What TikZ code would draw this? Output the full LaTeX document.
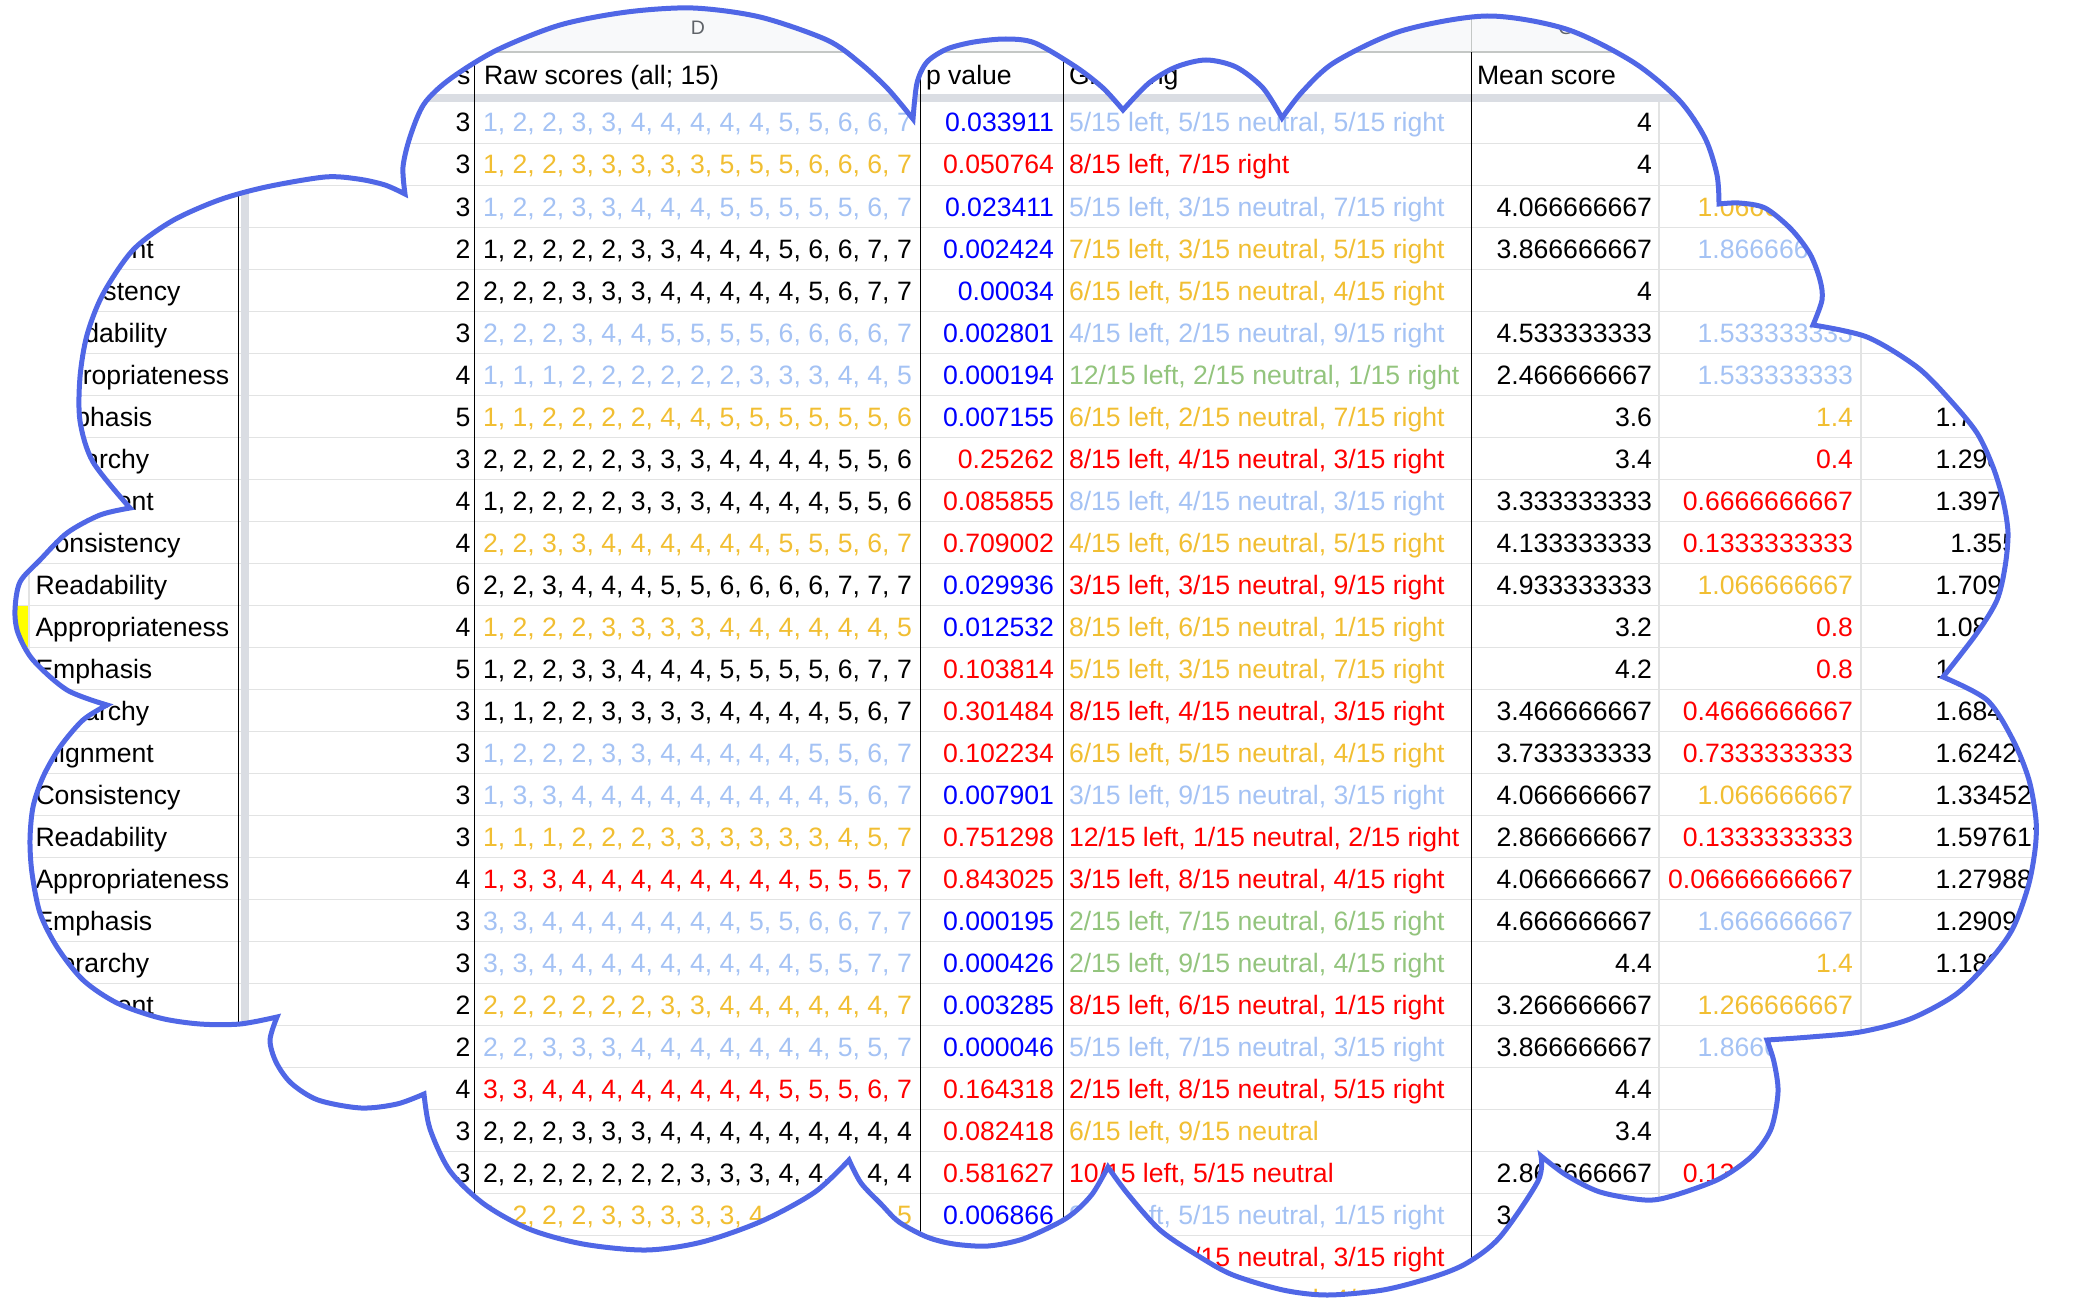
\documentclass[tikz,border=0pt]{standalone}
\usepackage{fontspec}
\setmainfont{Liberation Sans}
\definecolor{lblue}{HTML}{A4C2F4}
\definecolor{orng}{HTML}{F1BE32}
\definecolor{grn}{HTML}{93C47D}
\definecolor{rd}{HTML}{FF0000}
\definecolor{bl}{HTML}{0000FF}
\definecolor{cloudblue}{HTML}{5067E6}
\definecolor{gridgray}{HTML}{E2E3E3}
\definecolor{bandgray}{HTML}{DADDE3}
\definecolor{hdrbg}{HTML}{F8F9FA}
\definecolor{hdrline}{HTML}{C4C7C5}
\definecolor{lettergray}{HTML}{5F6368}
\definecolor{marker}{HTML}{FFFF00}
\tikzset{
  cell/.style={inner sep=0pt, outer sep=0pt, font=\fontsize{26.6}{30}\selectfont},
  lcell/.style={cell, anchor=base west},
  rcell/.style={cell, anchor=base east},
  colletter/.style={inner sep=0pt, outer sep=0pt, anchor=base, text=lettergray, font=\fontsize{19.5}{22}\selectfont},
  gridline/.style={draw=gridgray, line width=1.5pt},
  border/.style={draw=black, line width=1.8pt},
  hdrsep/.style={draw=hdrline, line width=1.5pt},
  cloudline/.style={draw=cloudblue, line width=5pt},
}
\newcommand\lnode[5]{\if\relax\detokenize{#5}\relax\else\node[lcell,text=#4] (#1) at (#2,{90+42*#3}) {#5};\fi}
\newcommand\rnode[5]{\if\relax\detokenize{#5}\relax\else\node[rcell,text=#4] (#1) at (#2,{90+42*#3}) {#5};\fi}
% k, label, count, rawcolor, raw, pcolor, p
\newcommand\sheetrowA[7]{%
  \lnode{lab-#1}{35.5}{#1}{black}{#2}%
  \rnode{cnt-#1}{470.5}{#1}{black}{#3}%
  \lnode{raw-#1}{483}{#1}{#4}{#5}%
  \rnode{p-#1}{1054}{#1}{#6}{#7}}
% k, groupcolor, grouping, mean, diffcolor, diff, sd
\newcommand\sheetrowB[7]{%
  \lnode{grp-#1}{1069}{#1}{#2}{#3}%
  \rnode{mean-#1}{1652}{#1}{black}{#4}%
  \rnode{dif-#1}{1853}{#1}{#5}{#6}%
  \rnode{sd-#1}{2091}{#1}{black}{#7}}
\newcommand\cloudpath{%
 plot[smooth] coordinates {(405,194) (403,167) (410,137) (424,104) (450,79) (497,50) (560,25) (627,12) (693,8) (760,17) (827,40) (860,63) (888,89) (913,119)}
 -- plot[smooth] coordinates {(913,119) (917,83) (927,62) (947,49) (974,42) (1006,39) (1035,43) (1076,67) (1103,88) (1123,110)}
 -- plot[smooth] coordinates {(1123,110) (1149,83) (1176,67) (1206,60) (1236,67) (1263,88) (1282,118)}
 -- plot[smooth] coordinates {(1282,118) (1302,92) (1335,62) (1401,31) (1487,16) (1566,29) (1633,62) (1679,100) (1705,138) (1717,175) (1719,204)}
 -- plot[smooth] coordinates {(1719,204) (1739,203) (1765,208) (1791,229) (1810,254) (1820,280) (1822,300) (1813,325)}
 -- plot[smooth] coordinates {(1813,325) (1867,337) (1917,367) (1950,400) (1977,433) (1993,467) (2003,500) (2008,533) (2005,567) (1997,600) (1977,633) (1943,677)}
 -- plot[smooth] coordinates {(1943,677) (1987,700) (2013,740) (2029,780) (2036,820) (2035,850) (2028,887) (2012,930) (1986,965) (1955,995) (1910,1019) (1860,1032) (1810,1037) (1767,1040)}
 -- plot[smooth] coordinates {(1767,1040) (1774,1062) (1778,1092) (1771,1129) (1752,1156) (1719,1179) (1672,1196) (1645,1200) (1600,1192) (1566,1175) (1541,1156)}
 -- plot[smooth] coordinates {(1541,1156) (1538,1181) (1500,1237) (1467,1263) (1433,1277) (1383,1290) (1327,1295) (1283,1290) (1233,1275) (1200,1257) (1160,1230) (1127,1193) (1108,1167)}
 -- plot[smooth] coordinates {(1108,1167) (1093,1193) (1077,1210) (1060,1222) (1023,1239) (988,1246) (954,1244) (927,1237) (899,1222) (881,1204) (861,1183) (849,1160)}
 -- plot[smooth] coordinates {(849,1160) (815,1192) (762,1221) (702,1242) (646,1250) (583,1244) (529,1229) (484,1204) (450,1171) (430,1129) (424,1094)}
 -- plot[smooth] coordinates {(424,1094) (397,1104) (361,1108) (318,1100) (291,1083) (276,1062) (270,1040) (277,1017)}
 -- plot[smooth] coordinates {(277,1017) (240,1024) (200,1024) (160,1018) (117,1003) (83,980) (57,947) (40,913) (32,873) (30,840) (33,807) (43,777) (60,747) (83,720) (107,705)}
 -- plot[smooth] coordinates {(107,705) (67,690) (33,660) (18,633) (15,610) (20,582) (40,560) (67,533) (100,515) (130,508)}
 -- plot[smooth] coordinates {(130,508) (93,462) (80,421) (80,377) (87,335) (103,294) (133,250) (172,221) (219,200) (266,187) (325,177) (358,179) (385,185) (405,194)}
 -- cycle}
\begin{document}
\begin{tikzpicture}[x=1pt,y=-1pt]
\useasboundingbox (0,0) rectangle (2074,1300);
\begin{scope}
\clip \cloudpath;
% column letter row
\fill[hdrbg] (0,0) rectangle (2074,52);
\foreach \xx in {238.5,474.5,920.5,1063.5,1471.5,1659,1861} \draw[hdrsep] (\xx,0) -- (\xx,52);
\draw[hdrsep] (0,52) -- (2074,52);
% highlighted cell
\fill[marker] (0,605.5) rectangle (28.5,647.5);
% grid
\foreach \k in {1,...,28} \draw[gridline] (0,{101.5+42*\k}) -- (2074,{101.5+42*\k});
\foreach \xx in {29,1659,1861} \draw[gridline] (\xx,102) -- (\xx,1300);
% frozen bands
\fill[bandgray] (0,94) rectangle (2074,102);
\fill[bandgray] (240.5,52) rectangle (248.5,1300);
% borders
\foreach \xx in {238.5,474.5,920.5,1063.5,1471.5} \draw[border] (\xx,52) -- (\xx,1300);
% headers
\node[colletter] (colD) at (698,34.7) {D};
\node[colletter] (colG) at (1566,34.7) {G};
\node[rcell] (hdr-cnt) at (470.5,84.5) {s};
\node[lcell] (hdr-raw) at (484,84.5) {Raw scores (all; 15)};
\node[lcell] (hdr-p) at (926,84.5) {p value};
\node[lcell] (hdr-grp) at (1069,84.5) {Grouping};
\node[lcell] (hdr-mean) at (1477,84.5) {Mean score};
% rows
\sheetrowA{1}{}{3}{lblue}{1, 2, 2, 3, 3, 4, 4, 4, 4, 4, 5, 5, 6, 6, 7}{bl}{0.033911}
\sheetrowB{1}{lblue}{5/15 left, 5/15 neutral, 5/15 right}{4}{orng}{1}{}
\sheetrowA{2}{}{3}{orng}{1, 2, 2, 3, 3, 3, 3, 3, 5, 5, 5, 6, 6, 6, 7}{rd}{0.050764}
\sheetrowB{2}{rd}{8/15 left, 7/15 right}{4}{orng}{1}{}
\sheetrowA{3}{}{3}{lblue}{1, 2, 2, 3, 3, 4, 4, 4, 5, 5, 5, 5, 5, 6, 7}{bl}{0.023411}
\sheetrowB{3}{lblue}{5/15 left, 3/15 neutral, 7/15 right}{4.066666667}{orng}{1.066666667}{}
\sheetrowA{4}{Alignment}{2}{black}{1, 2, 2, 2, 2, 3, 3, 4, 4, 4, 5, 6, 6, 7, 7}{bl}{0.002424}
\sheetrowB{4}{orng}{7/15 left, 3/15 neutral, 5/15 right}{3.866666667}{lblue}{1.866666667}{}
\sheetrowA{5}{Consistency}{2}{black}{2, 2, 2, 3, 3, 3, 4, 4, 4, 4, 4, 5, 6, 7, 7}{bl}{0.00034}
\sheetrowB{5}{orng}{6/15 left, 5/15 neutral, 4/15 right}{4}{lblue}{2}{}
\sheetrowA{6}{Readability}{3}{lblue}{2, 2, 2, 3, 4, 4, 5, 5, 5, 5, 6, 6, 6, 6, 7}{bl}{0.002801}
\sheetrowB{6}{lblue}{4/15 left, 2/15 neutral, 9/15 right}{4.533333333}{lblue}{1.533333333}{}
\sheetrowA{7}{Appropriateness}{4}{lblue}{1, 1, 1, 2, 2, 2, 2, 2, 2, 3, 3, 3, 4, 4, 5}{bl}{0.000194}
\sheetrowB{7}{grn}{12/15 left, 2/15 neutral, 1/15 right}{2.466666667}{lblue}{1.533333333}{}
\sheetrowA{8}{Emphasis}{5}{orng}{1, 1, 2, 2, 2, 2, 4, 4, 5, 5, 5, 5, 5, 5, 6}{bl}{0.007155}
\sheetrowB{8}{orng}{6/15 left, 2/15 neutral, 7/15 right}{3.6}{orng}{1.4}{1.723783215}
\sheetrowA{9}{Hierarchy}{3}{black}{2, 2, 2, 2, 2, 3, 3, 3, 4, 4, 4, 4, 5, 5, 6}{rd}{0.25262}
\sheetrowB{9}{rd}{8/15 left, 4/15 neutral, 3/15 right}{3.4}{rd}{0.4}{1.298350606}
\sheetrowA{10}{Alignment}{4}{black}{1, 2, 2, 2, 2, 3, 3, 3, 4, 4, 4, 4, 5, 5, 6}{rd}{0.085855}
\sheetrowB{10}{lblue}{8/15 left, 4/15 neutral, 3/15 right}{3.333333333}{rd}{0.6666666667}{1.397276319}
\sheetrowA{11}{Consistency}{4}{orng}{2, 2, 3, 3, 4, 4, 4, 4, 4, 4, 5, 5, 5, 6, 7}{rd}{0.709002}
\sheetrowB{11}{orng}{4/15 left, 6/15 neutral, 5/15 right}{4.133333333}{rd}{0.1333333333}{1.35576371}
\sheetrowA{12}{Readability}{6}{black}{2, 2, 3, 4, 4, 4, 5, 5, 6, 6, 6, 6, 7, 7, 7}{bl}{0.029936}
\sheetrowB{12}{rd}{3/15 left, 3/15 neutral, 9/15 right}{4.933333333}{orng}{1.066666667}{1.709915064}
\sheetrowA{13}{Appropriateness}{4}{orng}{1, 2, 2, 2, 3, 3, 3, 3, 4, 4, 4, 4, 4, 4, 5}{bl}{0.012532}
\sheetrowB{13}{orng}{8/15 left, 6/15 neutral, 1/15 right}{3.2}{rd}{0.8}{1.082325538}
\sheetrowA{14}{Emphasis}{5}{black}{1, 2, 2, 3, 3, 4, 4, 4, 5, 5, 5, 5, 6, 7, 7}{rd}{0.103814}
\sheetrowB{14}{orng}{5/15 left, 3/15 neutral, 7/15 right}{4.2}{rd}{0.8}{1.780850506}
\sheetrowA{15}{Hierarchy}{3}{black}{1, 1, 2, 2, 3, 3, 3, 3, 4, 4, 4, 4, 5, 6, 7}{rd}{0.301484}
\sheetrowB{15}{rd}{8/15 left, 4/15 neutral, 3/15 right}{3.466666667}{rd}{0.4666666667}{1.684664707}
\sheetrowA{16}{Alignment}{3}{lblue}{1, 2, 2, 2, 3, 3, 4, 4, 4, 4, 4, 5, 5, 6, 7}{rd}{0.102234}
\sheetrowB{16}{orng}{6/15 left, 5/15 neutral, 4/15 right}{3.733333333}{rd}{0.7333333333}{1.624221417}
\sheetrowA{17}{Consistency}{3}{lblue}{1, 3, 3, 4, 4, 4, 4, 4, 4, 4, 4, 4, 5, 6, 7}{bl}{0.007901}
\sheetrowB{17}{lblue}{3/15 left, 9/15 neutral, 3/15 right}{4.066666667}{orng}{1.066666667}{1.334523279}
\sheetrowA{18}{Readability}{3}{orng}{1, 1, 1, 2, 2, 2, 3, 3, 3, 3, 3, 3, 4, 5, 7}{rd}{0.751298}
\sheetrowB{18}{rd}{12/15 left, 1/15 neutral, 2/15 right}{2.866666667}{rd}{0.1333333333}{1.597617273}
\sheetrowA{19}{Appropriateness}{4}{rd}{1, 3, 3, 4, 4, 4, 4, 4, 4, 4, 4, 5, 5, 5, 7}{rd}{0.843025}
\sheetrowB{19}{rd}{3/15 left, 8/15 neutral, 4/15 right}{4.066666667}{rd}{0.06666666667}{1.279880947}
\sheetrowA{20}{Emphasis}{3}{lblue}{3, 3, 4, 4, 4, 4, 4, 4, 4, 5, 5, 6, 6, 7, 7}{bl}{0.000195}
\sheetrowB{20}{grn}{2/15 left, 7/15 neutral, 6/15 right}{4.666666667}{lblue}{1.666666667}{1.290994449}
\sheetrowA{21}{Hierarchy}{3}{lblue}{3, 3, 4, 4, 4, 4, 4, 4, 4, 4, 4, 5, 5, 7, 7}{bl}{0.000426}
\sheetrowB{21}{grn}{2/15 left, 9/15 neutral, 4/15 right}{4.4}{orng}{1.4}{1.183215957}
\sheetrowA{22}{Alignment}{2}{orng}{2, 2, 2, 2, 2, 2, 3, 3, 4, 4, 4, 4, 4, 4, 7}{bl}{0.003285}
\sheetrowB{22}{rd}{8/15 left, 6/15 neutral, 1/15 right}{3.266666667}{orng}{1.266666667}{}
\sheetrowA{23}{}{2}{lblue}{2, 2, 3, 3, 3, 4, 4, 4, 4, 4, 4, 4, 5, 5, 7}{bl}{0.000046}
\sheetrowB{23}{lblue}{5/15 left, 7/15 neutral, 3/15 right}{3.866666667}{lblue}{1.866666667}{}
\sheetrowA{24}{}{4}{rd}{3, 3, 4, 4, 4, 4, 4, 4, 4, 4, 5, 5, 5, 6, 7}{rd}{0.164318}
\sheetrowB{24}{rd}{2/15 left, 8/15 neutral, 5/15 right}{4.4}{rd}{0.4}{}
\sheetrowA{25}{}{3}{black}{2, 2, 2, 3, 3, 3, 4, 4, 4, 4, 4, 4, 4, 4, 4}{rd}{0.082418}
\sheetrowB{25}{orng}{6/15 left, 9/15 neutral}{3.4}{rd}{0.4}{}
\sheetrowA{26}{}{3}{black}{2, 2, 2, 2, 2, 2, 2, 3, 3, 3, 4, 4, 4, 4, 4}{rd}{0.581627}
\sheetrowB{26}{rd}{10/15 left, 5/15 neutral}{2.866666667}{rd}{0.1333333333}{}
\sheetrowA{27}{}{}{orng}{1, 2, 2, 2, 3, 3, 3, 3, 3, 4, 4, 4, 4, 4, 5}{bl}{0.006866}
\sheetrowB{27}{lblue}{9/15 left, 5/15 neutral, 1/15 right}{3.133333333}{}{}{}
\sheetrowB{28}{rd}{4/15 left, 8/15 neutral, 3/15 right}{}{}{}{}
\sheetrowB{29}{orng}{6/15 left, 5/15 neutral, 4/15 right}{}{}{}{}
\end{scope}
\draw[cloudline] \cloudpath;
\end{tikzpicture}
\end{document}
